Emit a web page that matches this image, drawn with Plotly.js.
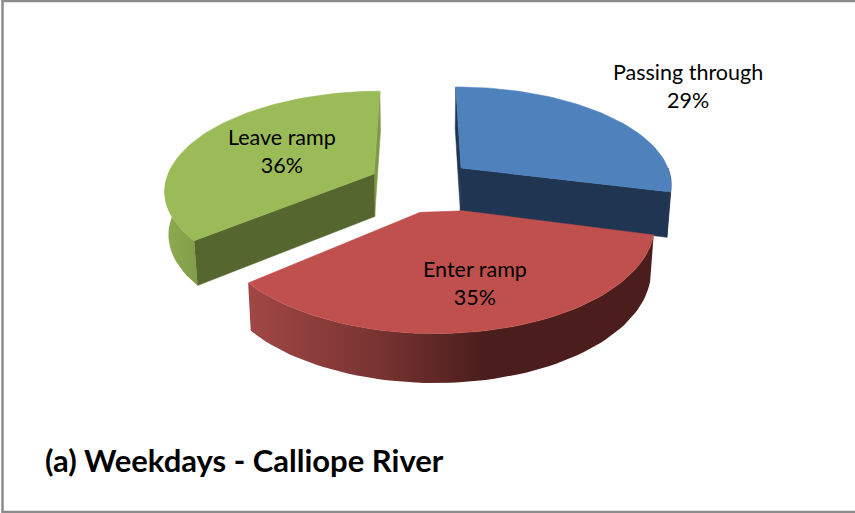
<!DOCTYPE html>
<html>
<head>
<meta charset="utf-8">
<script src="https://cdn.plot.ly/plotly-3.0.1.min.js"></script>
<style>html,body{margin:0;padding:0;background:#fff;overflow:hidden}#chart{width:855px;height:513px}</style>
</head>
<body>
<div id="chart"></div>
<script>
// Data
const categories = ["Passing through", "Enter ramp", "Leave ramp"];
const percents = [29, 35, 36];
const chartTitle = "(a) Weekdays - Calliope River";

// Colours
const topColors = ["#4F81BD", "#C0504D", "#9BBB59"];
const faceColors = ["#1F3552", "#4B1E1D", "#56662F"];

// Projection of each exploded slice: apex in page pixels, radii and height
const vanishX = 420, persp = 0.147, sink = 0.985;
const apexX = [461, 433, 374];
const apexY = [168, 207, 174];
const radX = [207, 219, 206];
const radY = [93, 108, 95];
const depths = [44.5, 45.5, 42.5];

const total = percents.reduce((a, b) => a + b, 0);
function project(i, deg) {
  const t = deg * Math.PI / 180, u = -Math.cos(t), s = 1 / (1 - persp * u);
  return {
    x: vanishX + (apexX[i] - vanishX + radX[i] * Math.sin(t)) * s,
    y: apexY[i] + radY[i] * u * s,
    s: s
  };
}
function lower(i, p) {
  const d = depths[i] * (1 + 0.5 * (p.s - 1));
  return {x: vanishX + (p.x - vanishX) * sink, y: p.y + d};
}
function apexPoint(i) { return {x: apexX[i], y: apexY[i], s: 1}; }
function arc(i, a, b) {
  const out = [], n = Math.max(2, Math.ceil(Math.abs(b - a) / 2));
  for (let k = 0; k <= n; k++) out.push(project(i, a + (b - a) * k / n));
  return out;
}
function poly(pts, color, grad) {
  const tr = {
    type: "scatter", mode: "lines",
    x: pts.map(p => p.x).concat(pts[0].x), y: pts.map(p => p.y).concat(pts[0].y),
    fill: "toself", fillcolor: color,
    line: {width: 0.5, color: color}, hoverinfo: "skip", showlegend: false
  };
  if (grad) { tr.fillgradient = grad; tr.line = {width: 0}; }
  return tr;
}
function cutFace(i, deg, color) {
  const a = apexPoint(i), e = project(i, deg);
  return poly([a, e, lower(i, e), lower(i, a)], color);
}
function rim(i, a, b, color, grad) {
  const ring = arc(i, a, b);
  return poly(ring.concat(ring.slice().reverse().map(p => lower(i, p))), color, grad);
}
function topFace(i, a, b, bevel) {
  const ring = arc(i, a, b), ap = apexPoint(i);
  let head = [ap];
  if (bevel) {
    const f = ring[ring.length - 1], l = ring[0];
    head = [
      {x: ap.x + (f.x - ap.x) * bevel[0], y: ap.y + (f.y - ap.y) * bevel[0]},
      {x: ap.x + (l.x - ap.x) * bevel[1], y: ap.y + (l.y - ap.y) * bevel[1]}
    ];
  }
  return poly(head.concat(ring), topColors[i]);
}

// Slice angles come from the values, clockwise from twelve o'clock
const starts = [], ends = [];
let acc = 0;
percents.forEach((v, i) => { starts[i] = acc * 3.6; acc += v * 100 / total; ends[i] = acc * 3.6; });

const traces = [
  // Passing through (back)
  cutFace(0, starts[0], faceColors[0]),
  cutFace(0, ends[0], faceColors[0]),
  rim(0, 90, ends[0], faceColors[0]),
  topFace(0, starts[0], ends[0]),
  // Leave ramp
  cutFace(2, ends[2], "#7F9A46"),
  cutFace(2, starts[2], faceColors[2]),
  rim(2, starts[2], 272, "#86A24C", {type: "horizontal", start: 163, stop: 205,
    colorscale: [[0, "#8EAB50"], [1, "#7F9A46"]]}),
  topFace(2, starts[2], ends[2]),
  // Enter ramp (front)
  rim(1, starts[1], ends[1], faceColors[1], {type: "horizontal", start: 250, stop: 560,
    colorscale: [[0, "#A04745"], [0.4, "#7A3432"], [0.75, "#4B1E1D"], [1, "#4B1E1D"]]}),
  topFace(1, starts[1], ends[1], [0.07, 0.136])
];

const labelX = [688, 475, 282];
const labelY = [86, 283, 151];
const labelFont = {family: "Lato, Carlito, sans-serif", size: 21.5, color: "#000"};

const layout = {
  width: 855, height: 513,
  margin: {l: 0, r: 0, t: 0, b: 0},
  paper_bgcolor: "#fff", plot_bgcolor: "#fff",
  showlegend: false,
  xaxis: {range: [0, 855], visible: false, fixedrange: true},
  yaxis: {range: [513, 0], visible: false, fixedrange: true},
  shapes: [{type: "rect", xref: "x", yref: "y", x0: 2.5, y0: 1, x1: 862, y1: 512,
    line: {color: "#8C8C8C", width: 2.5}, fillcolor: "rgba(0,0,0,0)"}],
  annotations: categories.map((c, i) => ({
    xref: "x", yref: "y", x: labelX[i], y: labelY[i], showarrow: false,
    text: c + "<br>" + percents[i] + "%", align: "center", font: labelFont
  })).concat([{
    xref: "x", yref: "y", x: 43, y: 460, xanchor: "left", showarrow: false,
    text: "<b>" + chartTitle + "</b>",
    font: {family: "Lato, Carlito, sans-serif", size: 31, color: "#000"}
  }])
};
Plotly.newPlot("chart", traces, layout, {displayModeBar: false, staticPlot: true});
</script>
</body>
</html>
